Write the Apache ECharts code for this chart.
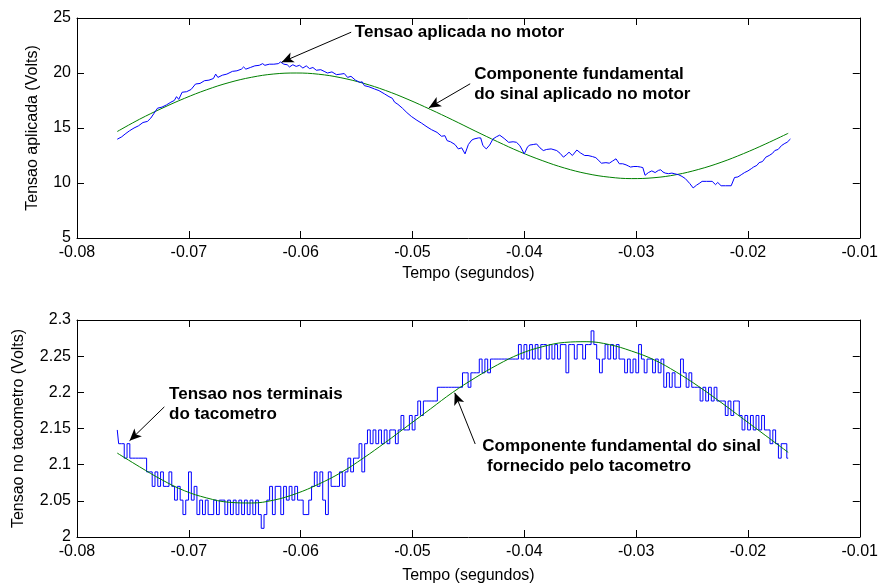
<!DOCTYPE html>
<html>
<head>
<meta charset="utf-8">
<script src="https://cdn.jsdelivr.net/npm/echarts@6/dist/echarts.min.js"></script>
<style>
html,body{margin:0;padding:0;background:#fff;}
#chart{width:881px;height:585px;}
</style>
</head>
<body>
<div id="chart"></div>
<script>
// ---------- DATA ----------
// Top plot: applied voltage (time s, volts)
const topBlueT = [-0.0764,-0.0760,-0.0757,-0.0753,-0.0749,-0.0745,-0.0741,-0.0737,-0.0734,-0.0731,-0.0728,-0.0724,-0.0720,-0.0716,-0.0713,-0.0711,-0.0709,-0.0706,-0.0702,-0.0698,-0.0694,-0.0690,-0.0686,-0.0682,-0.0678,-0.0676,-0.0674,-0.0670,-0.0666,-0.0661,-0.0657,-0.0653,-0.0651,-0.0649,-0.0645,-0.0641,-0.0637,-0.0634,-0.0632,-0.0628,-0.0624,-0.0620,-0.0618,-0.0615,-0.0612,-0.0610,-0.0607,-0.0604,-0.0601,-0.0598,-0.0595,-0.0592,-0.0589,-0.0586,-0.0582,-0.0579,-0.0576,-0.0572,-0.0568,-0.0564,-0.0561,-0.0558,-0.0555,-0.0551,-0.0547,-0.0545,-0.0543,-0.0539,-0.0534,-0.0530,-0.0525,-0.0521,-0.0518,-0.0516,-0.0513,-0.0509,-0.0505,-0.0501,-0.0496,-0.0492,-0.0487,-0.0483,-0.0478,-0.0474,-0.0471,-0.0469,-0.0466,-0.0462,-0.0459,-0.0456,-0.0453,-0.0450,-0.0447,-0.0445,-0.0441,-0.0439,-0.0437,-0.0434,-0.0431,-0.0428,-0.0425,-0.0422,-0.0418,-0.0414,-0.0410,-0.0407,-0.0404,-0.0400,-0.0397,-0.0395,-0.0392,-0.0389,-0.0386,-0.0383,-0.0380,-0.0376,-0.0371,-0.0368,-0.0365,-0.0362,-0.0360,-0.0357,-0.0353,-0.0350,-0.0346,-0.0343,-0.0339,-0.0336,-0.0334,-0.0331,-0.0327,-0.0324,-0.0321,-0.0318,-0.0315,-0.0312,-0.0309,-0.0307,-0.0305,-0.0302,-0.0299,-0.0296,-0.0294,-0.0292,-0.0289,-0.0286,-0.0283,-0.0280,-0.0278,-0.0276,-0.0274,-0.0271,-0.0268,-0.0266,-0.0262,-0.0259,-0.0256,-0.0252,-0.0249,-0.0246,-0.0243,-0.0241,-0.0237,-0.0232,-0.0229,-0.0227,-0.0224,-0.0220,-0.0215,-0.0212,-0.0209,-0.0206,-0.0203,-0.0200,-0.0197,-0.0195,-0.0192,-0.0190,-0.0187,-0.0184,-0.0181,-0.0178,-0.0176,-0.0173,-0.0170,-0.0167,-0.0165,-0.0162];
const topBlueV = [13.98,14.2,14.45,14.75,15.0,15.2,15.5,15.6,15.9,16.35,16.8,16.9,17.1,17.35,17.5,17.85,17.6,18.25,18.3,18.5,19.0,19.05,19.3,19.35,19.5,19.9,19.6,19.8,19.9,20.15,20.2,20.35,20.55,20.35,20.5,20.65,20.7,20.85,20.7,20.8,20.8,20.85,21.0,20.8,20.75,20.55,20.75,20.6,20.7,20.45,20.65,20.4,20.5,20.25,20.3,20.15,20.0,20.1,19.85,19.9,19.95,19.6,19.7,19.35,19.15,19.2,18.85,18.75,18.55,18.4,18.1,17.85,17.7,17.35,17.15,16.8,16.4,16.05,15.7,15.45,15.1,14.85,14.6,14.25,14.3,13.85,13.75,13.5,13.1,13.2,12.65,13.5,13.9,14.0,14.1,14.1,13.4,13.1,13.45,14.0,14.2,14.35,14.05,13.7,13.75,13.7,13.4,12.65,13.3,13.45,13.5,13.55,13.2,12.95,13.05,13.1,12.95,12.7,12.35,12.6,12.8,12.5,13.0,12.75,12.5,12.5,12.4,12.3,12.1,11.8,11.85,11.8,12.0,12.2,11.75,11.75,11.65,11.55,11.45,11.5,11.5,11.45,11.4,10.7,10.95,11.1,10.95,11.15,11.2,11.0,10.9,10.85,10.9,10.85,10.75,10.6,10.4,9.95,9.55,9.8,10.0,10.15,10.15,10.15,9.85,10.05,9.75,9.75,9.75,10.5,10.55,10.75,10.95,11.1,11.3,11.45,11.6,11.85,11.95,12.35,12.5,12.7,12.95,13.05,13.4,13.6,13.7,14.0];

// Fundamental components (sampled every 2 ms)
const greenT = [-0.0764,-0.0744,-0.0724,-0.0704,-0.0684,-0.0664,-0.0644,-0.0624,-0.0604,-0.0584,-0.0564,-0.0544,-0.0524,-0.0504,-0.0484,-0.0464,-0.0444,-0.0424,-0.0404,-0.0384,-0.0364,-0.0344,-0.0324,-0.0304,-0.0284,-0.0264,-0.0244,-0.0224,-0.0204,-0.0184,-0.0164];
const topGreenV = [14.68,15.8,16.79,17.69,18.48,19.13,19.61,19.91,20.0,19.89,19.57,19.07,18.41,17.6,16.69,15.73,14.73,13.76,12.84,12.04,11.36,10.85,10.53,10.4,10.48,10.76,11.24,11.88,12.67,13.56,14.52];
const botGreenV = [2.116,2.097,2.079,2.064,2.054,2.048,2.047,2.051,2.060,2.073,2.089,2.109,2.131,2.154,2.177,2.200,2.220,2.238,2.253,2.263,2.269,2.270,2.266,2.257,2.245,2.228,2.208,2.186,2.163,2.140,2.117];

// Bottom plot: tachometer voltage, samples every 0.25 ms starting at -0.0764 s
const botSampleStart = -0.0764;
const botSamplePeriod = 0.00025;
const botBlueV = [
2.148,2.129,2.129,2.109,2.129,2.109,2.109,2.109,2.109,2.109,2.109,2.090,2.090,2.070,2.090,2.070,2.090,2.070,2.070,2.090,
2.070,2.051,2.070,2.051,2.031,2.051,2.090,2.051,2.070,2.031,2.051,2.031,2.051,2.031,2.031,2.051,2.031,2.051,2.051,2.031,
2.051,2.031,2.051,2.031,2.051,2.031,2.051,2.031,2.051,2.031,2.051,2.031,2.012,2.031,2.051,2.070,2.031,2.070,2.070,2.031,
2.070,2.051,2.070,2.051,2.070,2.051,2.051,2.031,2.031,2.051,2.070,2.090,2.070,2.090,2.051,2.031,2.090,2.070,2.070,2.070,
2.090,2.070,2.090,2.109,2.090,2.109,2.109,2.129,2.090,2.129,2.148,2.129,2.148,2.129,2.148,2.129,2.148,2.129,2.148,2.148,
2.129,2.148,2.168,2.148,2.148,2.168,2.148,2.168,2.188,2.168,2.188,2.188,2.188,2.188,2.188,2.207,2.207,2.207,2.207,2.207,
2.207,2.207,2.207,2.207,2.227,2.227,2.207,2.227,2.227,2.227,2.246,2.227,2.246,2.227,2.246,2.246,2.246,2.246,2.246,2.246,
2.246,2.246,2.246,2.246,2.266,2.246,2.266,2.246,2.266,2.246,2.266,2.246,2.266,2.266,2.246,2.266,2.246,2.266,2.246,2.266,
2.266,2.227,2.266,2.266,2.246,2.266,2.266,2.246,2.266,2.266,2.285,2.266,2.246,2.227,2.246,2.266,2.246,2.266,2.246,2.266,
2.246,2.246,2.227,2.246,2.227,2.246,2.227,2.266,2.246,2.227,2.246,2.246,2.227,2.246,2.227,2.246,2.207,2.227,2.207,2.227,
2.207,2.207,2.246,2.227,2.207,2.227,2.207,2.207,2.207,2.188,2.207,2.188,2.207,2.188,2.207,2.188,2.188,2.188,2.168,2.188,
2.168,2.188,2.188,2.168,2.148,2.168,2.148,2.168,2.148,2.168,2.148,2.168,2.148,2.148,2.129,2.148,2.129,2.109,2.129,2.129,2.109];

// Axis tick settings
const xTicks = {min: -0.08, max: -0.01, step: 0.01};
const topYTicks = {min: 5, max: 25, step: 5};
const botYTicks = {min: 2, max: 2.3, step: 0.05};

// Annotations: [text, textX, textY, arrowFromX, arrowFromY, arrowToX, arrowToY]
const topNotes = [
  ['Tensao aplicada no motor', -0.0552, 23.72, -0.05548, 23.71, -0.0617, 20.98],
  ['Componente fundamental\ndo sinal aplicado no motor', -0.04453, 18.95, -0.04484, 19.02, -0.04853, 16.84]
];
const botNotes = [
  ['Tensao nos terminais\ndo tacometro', -0.07181, 2.1837, -0.07219, 2.1799, -0.0753, 2.1331],
  ['Componente fundamental do sinal\n fornecido pelo tacometro', -0.0438, 2.1118, -0.04439, 2.1286, -0.04622, 2.1993]
];

// ---------- CHART ----------
const FONT = "'Liberation Sans', Arial, sans-serif";
const zip = (a, b) => a.map((v, i) => [v, b[i]]);
const botBlueData = botBlueV.map((v, i) => [botSampleStart + i * botSamplePeriod, v]);

function mkX(grid, pos, name, gap) {
  const main = pos === 'bottom';
  return {
    type: 'value', gridIndex: grid, position: pos,
    min: xTicks.min, max: xTicks.max, interval: xTicks.step,
    axisLine: {show: true, onZero: false, lineStyle: {color: '#000', width: 1}},
    axisTick: {show: true, inside: true, length: 7, lineStyle: {color: '#000'}},
    axisLabel: {show: main, color: '#000', fontSize: 16, fontFamily: FONT, margin: 7},
    splitLine: {show: false},
    name: main ? name : '', nameLocation: 'middle', nameGap: gap,
    nameTextStyle: {color: '#000', fontSize: 16, fontFamily: FONT}
  };
}
function mkY(grid, pos, t, name, gap) {
  const main = pos === 'left';
  return {
    type: 'value', gridIndex: grid, position: pos,
    min: t.min, max: t.max, interval: t.step,
    axisLine: {show: true, onZero: false, lineStyle: {color: '#000', width: 1}},
    axisTick: {show: true, inside: true, length: 7, lineStyle: {color: '#000'}},
    axisLabel: {show: main, color: '#000', fontSize: 16, fontFamily: FONT, margin: 6},
    splitLine: {show: false},
    name: main ? name : '', nameLocation: 'middle', nameGap: gap, nameRotate: 90,
    nameTextStyle: {color: '#000', fontSize: 16, fontFamily: FONT}
  };
}
function notes(list) {
  return {
    markLine: {
      silent: true, animation: false,
      symbol: ['none', 'arrow'], symbolSize: [8, 12],
      lineStyle: {color: '#000', width: 1, type: 'solid'},
      label: {show: false},
      data: list.map(n => [{coord: [n[3], n[4]]}, {coord: [n[5], n[6]]}])
    },
    markPoint: {
      silent: true, animation: false,
      symbol: 'circle', symbolSize: 1, itemStyle: {color: 'rgba(0,0,0,0)'},
      label: {show: true, position: 'right', distance: 0, color: '#000', fontSize: 17,
              fontWeight: 'bold', fontFamily: FONT, lineHeight: 20, align: 'left'},
      data: list.map(n => ({coord: [n[1], n[2]], value: 0, label: {formatter: n[0]}}))
    }
  };
}

const chart = echarts.init(document.getElementById('chart'), null, {renderer: 'canvas'});
chart.setOption({
  animation: false,
  backgroundColor: '#fff',
  grid: [
    {left: 77, top: 18, width: 789, height: 220},
    {left: 77, top: 320, width: 789, height: 221}
  ],
  xAxis: [
    mkX(0, 'bottom', 'Tempo (segundos)', 28),
    mkX(0, 'top'),
    mkX(1, 'bottom', 'Tempo (segundos)', 31),
    mkX(1, 'top')
  ],
  yAxis: [
    mkY(0, 'left', topYTicks, 'Tensao aplicada (Volts)', 36),
    mkY(0, 'right', topYTicks),
    mkY(1, 'left', botYTicks, 'Tensao no tacometro (Volts)', 50),
    mkY(1, 'right', botYTicks)
  ],
  series: [
    Object.assign({
      type: 'line', xAxisIndex: 0, yAxisIndex: 0, data: zip(topBlueT, topBlueV),
      showSymbol: false, lineStyle: {color: '#0000ff', width: 1}, itemStyle: {color: '#0000ff'}, z: 3
    }, notes(topNotes)),
    {
      type: 'line', xAxisIndex: 0, yAxisIndex: 0, data: zip(greenT, topGreenV), smooth: 0.4,
      showSymbol: false, lineStyle: {color: '#008000', width: 1}, itemStyle: {color: '#008000'}, z: 2
    },
    Object.assign({
      type: 'line', xAxisIndex: 2, yAxisIndex: 2, data: botBlueData, step: 'middle',
      showSymbol: false, lineStyle: {color: '#0000ff', width: 1}, itemStyle: {color: '#0000ff'}, z: 2
    }, notes(botNotes)),
    {
      type: 'line', xAxisIndex: 2, yAxisIndex: 2, data: zip(greenT, botGreenV), smooth: 0.4,
      showSymbol: false, lineStyle: {color: '#008000', width: 1}, itemStyle: {color: '#008000'}, z: 3
    }
  ]
});
</script>
</body>
</html>
